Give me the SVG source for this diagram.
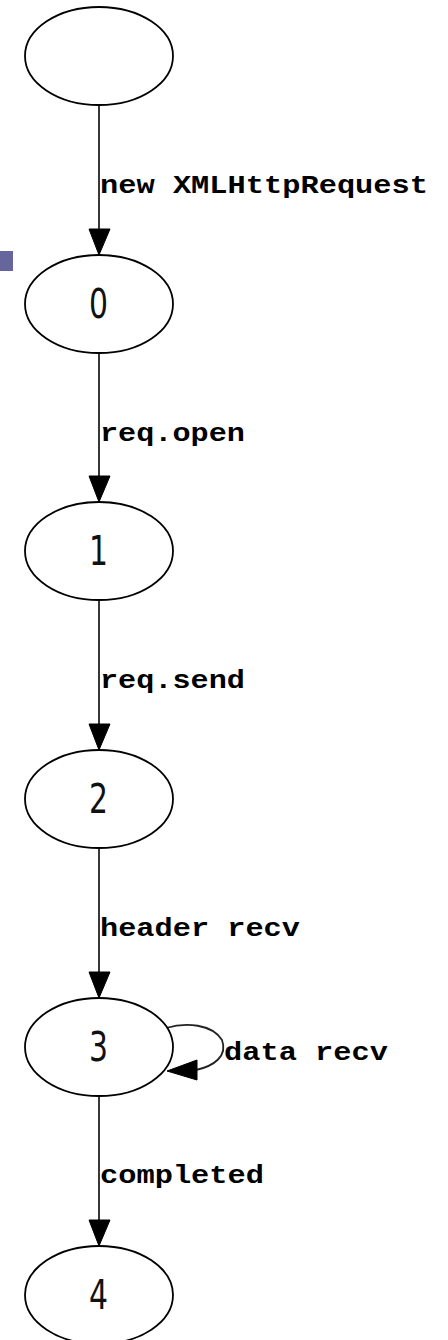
<svg xmlns="http://www.w3.org/2000/svg" width="448" height="1340" viewBox="0 0 448 1340">
  <style>
    .state ellipse { fill: #ffffff; stroke: #000000; stroke-width: 1.8; }
    .state text { font-family: "DejaVu Sans", "Liberation Sans", sans-serif; font-size: 40px; font-weight: normal; fill: #111111; }
    .edge line, .edge path { fill: none; stroke: #222222; stroke-width: 1.8; }
    .edge polygon { fill: #000000; stroke: #000000; stroke-width: 1; }
    .lbl { font-family: "Liberation Mono", "DejaVu Sans Mono", monospace; font-size: 26px; font-weight: bold; fill: #000000; }
  </style>

  <rect x="0" y="251" width="13" height="20" fill="#66669c"/>

  <g id="connectors" class="edge">
    <!-- start -> 0 -->
    <line x1="99" y1="105" x2="99" y2="229"/>
    <polygon points="89,229 110,229 99,255"/>
    <text class="lbl" x="100" y="193" textLength="328" lengthAdjust="spacingAndGlyphs">new XMLHttpRequest</text>
    <!-- 0 -> 1 -->
    <line x1="99" y1="353" x2="99" y2="476"/>
    <polygon points="89,476 110,476 99,502"/>
    <text class="lbl" x="100" y="441" textLength="145" lengthAdjust="spacingAndGlyphs">req.open</text>
    <!-- 1 -> 2 -->
    <line x1="99" y1="600" x2="99" y2="724"/>
    <polygon points="89,724 110,724 99,750"/>
    <text class="lbl" x="100" y="688" textLength="145" lengthAdjust="spacingAndGlyphs">req.send</text>
    <!-- 2 -> 3 -->
    <line x1="99" y1="848" x2="99" y2="972"/>
    <polygon points="89,972 110,972 99,998"/>
    <text class="lbl" x="100" y="936" textLength="200" lengthAdjust="spacingAndGlyphs">header recv</text>
    <!-- 3 -> 3 (self loop) -->
    <path d="M166,1028 C 186,1022 212,1024 222,1040 C 228,1056 214,1066 196,1070"/>
    <polygon points="167,1071 197,1060 197,1080"/>
    <text class="lbl" x="224" y="1060" textLength="164" lengthAdjust="spacingAndGlyphs">data recv</text>
    <!-- 3 -> 4 -->
    <line x1="99" y1="1096" x2="99" y2="1220"/>
    <polygon points="89,1220 110,1220 99,1246"/>
    <text class="lbl" x="100" y="1183" textLength="164" lengthAdjust="spacingAndGlyphs">completed</text>
  </g>

  <g id="start" class="state">
    <ellipse cx="99" cy="56" rx="74" ry="49"/>
  </g>
  <g id="s0" class="state">
    <ellipse cx="99" cy="304" rx="74" ry="49"/>
    <text x="89" y="318" textLength="19" lengthAdjust="spacingAndGlyphs">0</text>
  </g>
  <g id="s1" class="state">
    <ellipse cx="99" cy="551" rx="74" ry="49"/>
    <text x="89" y="565" textLength="19" lengthAdjust="spacingAndGlyphs">1</text>
  </g>
  <g id="s2" class="state">
    <ellipse cx="99" cy="799" rx="74" ry="49"/>
    <text x="89" y="813" textLength="19" lengthAdjust="spacingAndGlyphs">2</text>
  </g>
  <g id="s3" class="state">
    <ellipse cx="99" cy="1047" rx="74" ry="49"/>
    <text x="89" y="1061" textLength="19" lengthAdjust="spacingAndGlyphs">3</text>
  </g>
  <g id="s4" class="state">
    <ellipse cx="99" cy="1295" rx="74" ry="49"/>
    <text x="89" y="1309" textLength="19" lengthAdjust="spacingAndGlyphs">4</text>
  </g>
</svg>
